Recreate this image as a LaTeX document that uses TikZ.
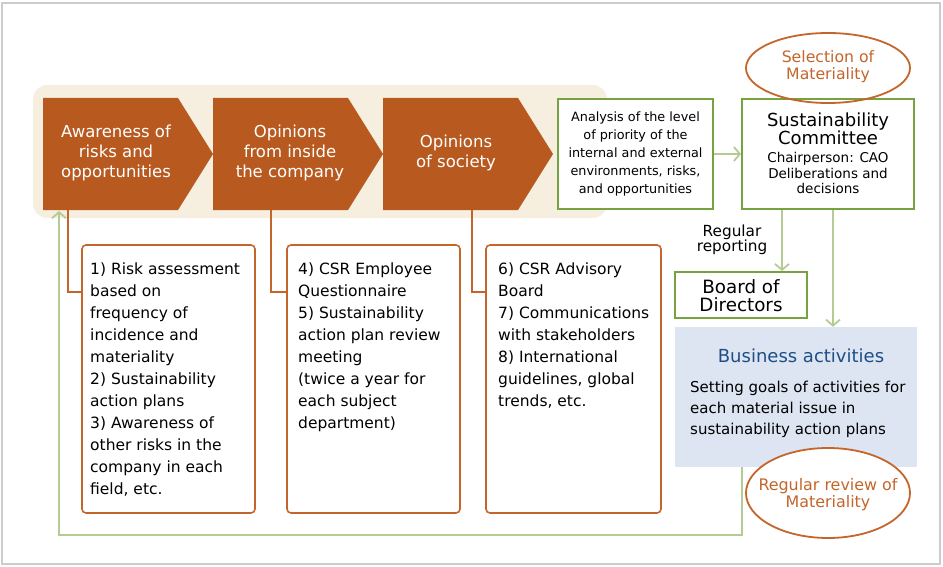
\documentclass[tikz,border=0pt]{standalone}
\usepackage{fontspec}
\setmainfont{DejaVu Sans}
\usetikzlibrary{arrows.meta,shapes.geometric}
\definecolor{orF}{HTML}{B85A1F}
\definecolor{orB}{HTML}{C4652B}
\definecolor{grB}{HTML}{76A23F}
\definecolor{lgr}{HTML}{B4CC94}
\definecolor{beig}{HTML}{F6EEDF}
\definecolor{lblu}{HTML}{DCE5F1}
\definecolor{dblu}{HTML}{1F4E87}
\definecolor{frm}{HTML}{CCCCCC}
\begin{document}
\begin{tikzpicture}[x=1pt,y=-1pt,
  chevtext/.style={text=white,align=center,font=\fontsize{16.5}{20}\selectfont,inner sep=0},
  listbox/.style={draw=orB,line width=1.6pt,rounded corners=4pt,fill=white,inner sep=0},
  listtext/.style={anchor=north west,align=left,inner sep=0,font=\fontsize{15.5}{22}\selectfont},
  gbox/.style={draw=grB,line width=1.8pt,fill=white,inner sep=0},
  garrow/.style={draw=lgr,line width=1.8pt,-{Straight Barb[length=6pt,width=14pt,line width=1.8pt]}},
  oline/.style={draw=orB,line width=1.8pt},
  oval/.style={ellipse,draw=orB,line width=1.8pt,inner sep=0},
  ovaltext/.style={text=orB,align=center,inner sep=0},
]
\useasboundingbox (0,0) rectangle (943,567);
\draw[frm,line width=1.5pt] (2,3) rectangle (940,564);
% beige band
\fill[beig,rounded corners=14pt] (33,85) rectangle (607,218);
% chevrons
\fill[orF] (43,98) -- (178,98) -- (213,154) -- (178,210) -- (43,210) -- cycle;
\fill[orF] (213,98) -- (348,98) -- (383,154) -- (348,210) -- (213,210) -- cycle;
\fill[orF] (383,98) -- (518,98) -- (553,154) -- (518,210) -- (383,210) -- cycle;
\node[chevtext] (c1) at (116,153) {Awareness of\\risks and\\opportunities};
\node[chevtext] (c2) at (290,153) {Opinions\\from inside\\the company};
\node[chevtext] (c3) at (456,153) {Opinions\\of society};
\coordinate (c1b) at (68,210);
\coordinate (c2b) at (271,210);
\coordinate (c3b) at (472,210);
\coordinate (c1in) at (59,211);
% analysis and committee
\node[gbox,minimum width=155,minimum height=110] (ana) at (635.5,154) {};
\node[align=center,inner sep=0,font=\fontsize{12.8}{18}\selectfont] (anat) at (635.5,154)
  {Analysis of the level\\of priority of the\\internal and external\\environments, risks,\\and opportunities};
\node[gbox,minimum width=172,minimum height=110] (com) at (828,154) {};
\node[align=center,inner sep=0,font=\fontsize{18}{18.5}\selectfont] (comt) at (828,129) {Sustainability\\Committee};
\node[align=center,inner sep=0,font=\fontsize{13.5}{15.5}\selectfont] (coms) at (828,173) {Chairperson: CAO\\Deliberations and\\decisions};
\node[oval,minimum width=164,minimum height=70] (sel) at (828,68) {};
\node[ovaltext,font=\fontsize{15.7}{17}\selectfont] (selt) at (828,67) {Selection of\\Materiality};
\draw[garrow] (ana.east) -- (com.west);
% board
\node[gbox,minimum width=132,minimum height=46] (board) at (741,295) {};
\node[align=center,inner sep=0,font=\fontsize{18.3}{18}\selectfont] (boardt) at (741,296) {Board of\\Directors};
\node[align=center,inner sep=0,font=\fontsize{15.3}{15.5}\selectfont] (rep) at (732,240) {Regular\\reporting};
\draw[garrow] ([xshift=-46pt]com.south) -- ([xshift=41pt]board.north);
% business activities
\node[fill=lblu,minimum width=242,minimum height=140,inner sep=0] (bus) at (796,397) {};
\node[text=dblu,inner sep=0,font=\fontsize{18}{18}\selectfont] (bust) at (801,356) {Business activities};
\node[anchor=west,align=left,inner sep=0,font=\fontsize{15}{21}\selectfont] (busb) at (690,409)
  {Setting goals of activities for\\each material issue in\\sustainability action plans};
\draw[garrow] ([xshift=5pt]com.south) -- ([xshift=37pt]bus.north);
\node[oval,fill=white,minimum width=164,minimum height=90] (rev) at (828,493) {};
\node[ovaltext,font=\fontsize{15.9}{17}\selectfont] (revt) at (828,495) {Regular review of\\Materiality};
% feedback loop
\draw[garrow] ([xshift=-54pt]bus.south) -- ++(0,68) -| (c1in);
% list boxes
\node[listbox,minimum width=173,minimum height=268] (b1) at (168.5,379) {};
\node[listbox,minimum width=173,minimum height=268] (b2) at (373.5,379) {};
\node[listbox,minimum width=175,minimum height=268] (b3) at (573.5,379) {};
\coordinate (b1in) at (82,292);
\coordinate (b2in) at (287,292);
\coordinate (b3in) at (486,292);
\draw[oline] (c1b) |- (b1in);
\draw[oline] (c2b) |- (b2in);
\draw[oline] (c3b) |- (b3in);
\node[listtext] (b1t) at (90,263) {1) Risk assessment\\based on\\frequency of\\incidence and\\materiality\\2) Sustainability\\action plans\\3) Awareness of\\other risks in the\\company in each\\field, etc.};
\node[listtext] (b2t) at (298,263) {4) CSR Employee\\Questionnaire\\5) Sustainability\\action plan review\\meeting\\(twice a year for\\each subject\\department)};
\node[listtext] (b3t) at (498,263) {6) CSR Advisory\\Board\\7) Communications\\with stakeholders\\8) International\\guidelines, global\\trends, etc.};
\end{tikzpicture}
\end{document}
